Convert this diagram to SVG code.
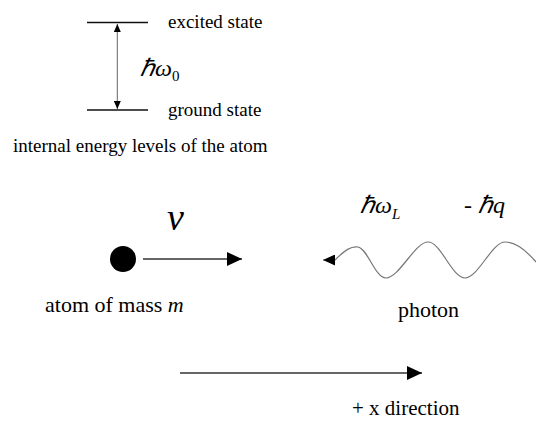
<svg xmlns="http://www.w3.org/2000/svg" width="536" height="426" viewBox="0 0 536 426">
<defs>
<marker id="ah" viewBox="0 0 15 14" refX="15" refY="7" markerWidth="15" markerHeight="14" markerUnits="userSpaceOnUse" orient="auto-start-reverse">
<path d="M0,0 L15,7 L0,14 z" fill="#000"/>
</marker>
<marker id="ahm" viewBox="0 0 12 11" refX="12" refY="5.5" markerWidth="12" markerHeight="11" markerUnits="userSpaceOnUse" orient="auto-start-reverse">
<path d="M0,0 L12,5.5 L0,11 z" fill="#000"/>
</marker>
<marker id="ahs" viewBox="0 0 8 7" refX="8" refY="3.5" markerWidth="8" markerHeight="7" markerUnits="userSpaceOnUse" orient="auto-start-reverse">
<path d="M0,0 L8,3.5 L0,7 z" fill="#000"/>
</marker>
</defs>
<g id="levels">
<g stroke="#111" stroke-width="1.6">
<line x1="87" y1="22.5" x2="148" y2="22.5"/>
<line x1="87" y1="110" x2="148" y2="110"/>
</g>
<text font-family="Liberation Serif" font-size="19" x="168" y="28">excited state</text>
<text font-family="Liberation Serif" font-size="19" x="168" y="116">ground state</text>
<text font-family="Liberation Serif" font-style="italic" x="140" y="76" font-size="24">ℏω<tspan font-style="normal" font-size="15" dy="5">0</tspan></text>
<text font-family="Liberation Serif" font-size="19" x="13" y="152">internal energy levels of the atom</text>
</g>
<g id="atom">
<circle cx="123" cy="259" r="13" fill="#000"/>
<text font-family="Liberation Serif" font-size="22" x="45" y="312">atom of mass <tspan font-style="italic">m</tspan></text>
<text font-family="Liberation Serif" font-style="italic" x="167" y="230" font-size="38">v</text>
</g>
<g id="photon">
<path stroke="#777" stroke-width="1.2" fill="none" marker-start="url(#ahm)" d="M323,260 L335,260 C345,250 351,246 358,247 C368,249 375,278 386,278 C399,278 415,242 428,242 C441,242 452,278 465,278 C478,278 492,242 505,242 C518,242 530,255 536,262"/>
<text font-family="Liberation Serif" font-style="italic" x="360" y="213" font-size="24">ℏω<tspan font-size="15" dy="6">L</tspan></text>
<text font-family="Liberation Serif" font-style="italic" x="464" y="213" font-size="24">- ℏq</text>
<text font-family="Liberation Serif" font-size="22" x="398" y="317">photon</text>
</g>
<g id="direction">
<text font-family="Liberation Serif" x="352" y="415" font-size="21">+ x  direction</text>
</g>
<g id="connectors" fill="none">
<line stroke="#666" stroke-width="1" x1="117.3" y1="24" x2="117.3" y2="109" marker-start="url(#ahs)" marker-end="url(#ahs)"/>
<line stroke="#333" stroke-width="1.6" x1="143" y1="259" x2="242" y2="259" marker-end="url(#ah)"/>
<line stroke="#333" stroke-width="1.6" x1="180" y1="373" x2="422" y2="373" marker-end="url(#ah)"/>
</g>
</svg>
